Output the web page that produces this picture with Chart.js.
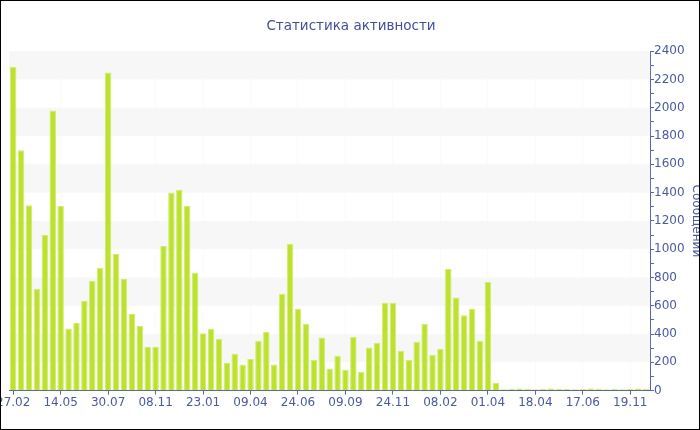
<!DOCTYPE html>
<html>
<head>
<meta charset="utf-8">
<script src="https://cdn.jsdelivr.net/npm/chart.js@4.4.1/dist/chart.umd.min.js"></script>
<style>
  html, body { margin: 0; padding: 0; background: #fff; }
  #frame {
    position: relative;
    width: 700px; height: 430px;
    box-sizing: border-box;
    border: 1px solid #000;
    overflow: hidden;
  }
  #box {
    position: absolute;
    left: -6px; top: 0;
    width: 712px; height: 428px;
  }
</style>
</head>
<body>
<div id="frame"><div id="box"><canvas id="myChart"></canvas></div></div>
<script>
// visible date labels, one every 6 bars
var tickLabels = ['27.02', '14.05', '30.07', '08.11', '23.01', '09.04', '24.06',
                  '09.09', '24.11', '08.02', '01.04', '18.04', '17.06', '19.11'];

// messages per period
var messages = [
  2290, 1700, 1310, 720, 1100, 1980, 1305, 440, 480, 635,
  776, 868, 2250, 967, 790, 543, 459, 310, 310, 1023,
  1400, 1420, 1305, 833, 405, 437, 367, 198, 261, 184,
  224, 353, 414, 184, 684, 1037, 579, 472, 219, 376,
  155, 247, 148, 381, 134, 304, 339, 621, 621, 282,
  219, 346, 473, 254, 296, 861, 658, 533, 579, 353,
  770, 56, 10, 12, 14, 12, 10, 12, 14, 12,
  12, 10, 12, 14, 12, 10, 12, 10, 12, 14, 12
];

var labels = messages.map(function(v, i) {
    return i % 6 === 0 ? tickLabels[i / 6] : '';
});

var blue = '#4a5a9e';
var axisBlue = '#5767a8';

// grey bands every other 200 step
var bands = {
    id: 'bands',
    beforeDatasetsDraw: function(chart) {
        var ctx = chart.ctx, a = chart.chartArea, y = chart.scales.y;
        ctx.save();
        ctx.fillStyle = '#f7f7f7';
        for (var v = 200; v < 2400; v += 400) {
            var top = y.getPixelForValue(v + 200);
            var bot = y.getPixelForValue(v);
            ctx.fillRect(a.left, top, a.right - a.left, bot - top);
        }
        ctx.restore();
    }
};

var ctx = document.getElementById('myChart').getContext('2d');
var myChart = new Chart(ctx, {
    type: 'bar',
    data: {
        labels: labels,
        datasets: [{
            label: 'Сообщений',
            data: messages,
            backgroundColor: '#bde12f',
            borderColor: '#d2ec72',
            borderWidth: 1,
            barPercentage: 0.82,
            categoryPercentage: 1
        }]
    },
    options: {
        responsive: true,
        maintainAspectRatio: false,
        animation: false,
        layout: { padding: { bottom: 18 } },
        scales: {
            x: {
                grid: {
                    offset: false,
                    drawOnChartArea: true,
                    color: function(c) { return labels[c.index] ? 'rgba(0,0,0,0.02)' : 'rgba(0,0,0,0)'; },
                    tickColor: function(c) { return labels[c.index] ? axisBlue : 'rgba(0,0,0,0)'; },
                    tickLength: 4
                },
                border: { color: axisBlue },
                ticks: {
                    autoSkip: false,
                    maxRotation: 0,
                    padding: 1,
                    color: blue,
                    font: { family: 'DejaVu Sans', size: 12 }
                }
            },
            y: {
                position: 'right',
                min: 0,
                max: 2400,
                grid: { drawOnChartArea: false, color: axisBlue, tickLength: 4 },
                border: { color: axisBlue },
                ticks: {
                    stepSize: 100,
                    autoSkip: false,
                    padding: 0,
                    color: blue,
                    font: { family: 'DejaVu Sans', size: 12 },
                    callback: function(value) {
                        return value % 200 === 0 ? value : '';
                    }
                },
                title: {
                    display: true,
                    text: 'Сообщений',
                    color: blue,
                    font: { family: 'DejaVu Sans', size: 12 }
                }
            }
        },
        plugins: {
            legend: { display: false },
            tooltip: { enabled: false },
            title: {
                display: true,
                text: 'Статистика активности',
                color: '#3f4f9c',
                font: { family: 'DejaVu Sans', size: 13.5, weight: 'normal' },
                padding: { top: 17, bottom: 17 }
            }
        }
    },
    plugins: [bands]
});
</script>
</body>
</html>
